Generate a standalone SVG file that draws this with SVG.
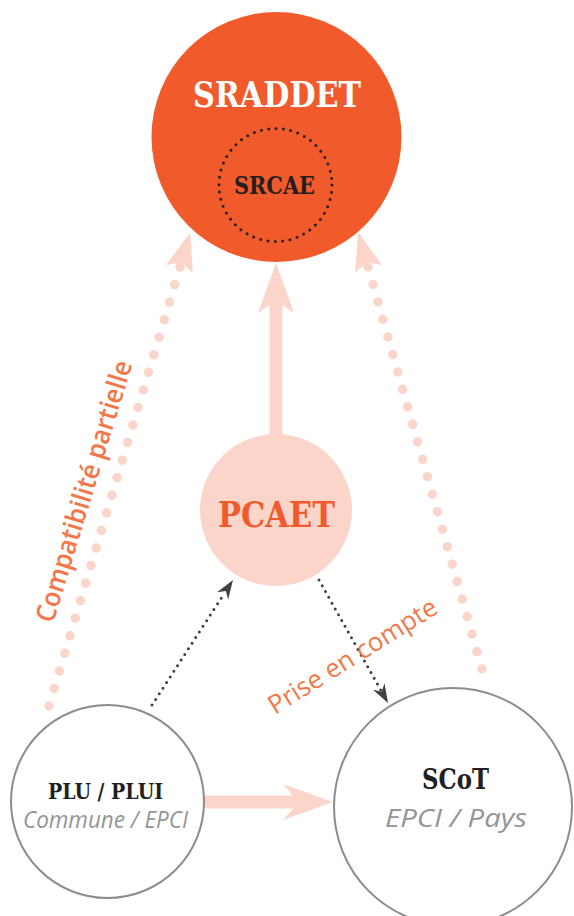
<svg xmlns="http://www.w3.org/2000/svg" width="574" height="916" viewBox="0 0 574 916">
  <style>
    .slab { font-family: "DejaVu Serif", "Liberation Serif", serif; font-weight: bold; text-anchor: middle; }
    .sub { font-family: "Open Sans", "Noto Sans", "Liberation Sans", sans-serif; font-style: italic; fill: #939598; text-anchor: middle; }
    .lbl { font-family: "Open Sans", "Noto Sans", "Liberation Sans", sans-serif; fill: #f37748; }
    .pinkdots { fill: none; stroke: #fbd5ca; stroke-width: 9.5; stroke-linecap: round; }
    .darkdots { fill: none; stroke: #414042; stroke-width: 3; stroke-linecap: round; }
    .block { fill: #fbd5ca; }
    .ring { fill: #ffffff; stroke: #8c8c8c; stroke-width: 2; }
  </style>
  <defs>
    <marker id="pinkHead" markerUnits="userSpaceOnUse" orient="auto" refX="0" refY="0" markerWidth="1" markerHeight="1" overflow="visible">
      <path d="M36,0 L-2,-14 L5,0 L-2,14 Z" fill="#fbd5ca"/>
    </marker>
    <marker id="darkHead" markerUnits="userSpaceOnUse" orient="auto" refX="0" refY="0" markerWidth="1" markerHeight="1" overflow="visible">
      <path d="M15,0 L-4,-6.6 L2,0 L-4,6.6 Z" fill="#414042"/>
    </marker>
  </defs>

  <g id="connectors">
    <path class="pinkdots" d="M49,706 L180,267" stroke-dasharray="0 18.325" marker-end="url(#pinkHead)"/>
    <path class="pinkdots" d="M482,669 L368,267" stroke-dasharray="0 18.167" marker-end="url(#pinkHead)"/>
    <path class="block" d="M276,263 L294,313 L282.5,305 L282.5,440 L269.5,440 L269.5,305 L258,313 Z"/>
    <path class="block" d="M200,795.5 L293,795.5 L283,784 L333,802 L283,820 L293,808.5 L200,808.5 Z"/>
    <path class="darkdots" d="M152,705 L224.8,592.6" stroke-dasharray="0 6.70" marker-end="url(#darkHead)"/>
    <path class="darkdots" d="M319,580 L380.7,689.9" stroke-dasharray="0 6.633" marker-end="url(#darkHead)"/>
    <text class="lbl" font-size="27" font-weight="600" transform="translate(53,624) rotate(-73)" textLength="272" lengthAdjust="spacingAndGlyphs">Compatibilité partielle</text>
    <text class="lbl" font-size="26" transform="translate(275,715) rotate(-32)" textLength="194" lengthAdjust="spacingAndGlyphs">Prise en compte</text>
  </g>

  <g id="sraddet">
    <circle cx="276.5" cy="137" r="125" fill="#f15a2b"/>
    <text class="slab" x="277" y="107" font-size="35" fill="#ffffff" textLength="168" lengthAdjust="spacingAndGlyphs">SRADDET</text>
  </g>

  <g id="srcae">
    <circle cx="275.5" cy="185" r="56.5" fill="none" stroke="#231f20" stroke-width="3" stroke-linecap="round" stroke-dasharray="0 7.4"/>
    <text class="slab" x="274.5" y="194" font-size="24" fill="#231f20" textLength="81" lengthAdjust="spacingAndGlyphs">SRCAE</text>
  </g>

  <g id="pcaet">
    <circle cx="276" cy="510" r="76" fill="#fbd5ca"/>
    <text class="slab" x="276.5" y="527" font-size="36" fill="#f15a2b" textLength="117" lengthAdjust="spacingAndGlyphs">PCAET</text>
  </g>

  <g id="plu">
    <circle class="ring" cx="107.5" cy="801.5" r="96.5"/>
    <text class="slab" x="105.5" y="799" font-size="22" fill="#231f20" textLength="115" lengthAdjust="spacingAndGlyphs">PLU / PLUI</text>
    <text class="sub" x="105.5" y="828" font-size="23" textLength="165" lengthAdjust="spacingAndGlyphs">Commune / EPCI</text>
  </g>

  <g id="scot">
    <circle class="ring" cx="453" cy="807" r="119"/>
    <text class="slab" x="455.5" y="789" font-size="27" fill="#231f20" textLength="67" lengthAdjust="spacingAndGlyphs">SCoT</text>
    <text class="sub" x="456" y="827" font-size="25" textLength="142" lengthAdjust="spacingAndGlyphs">EPCI / Pays</text>
  </g>
</svg>
